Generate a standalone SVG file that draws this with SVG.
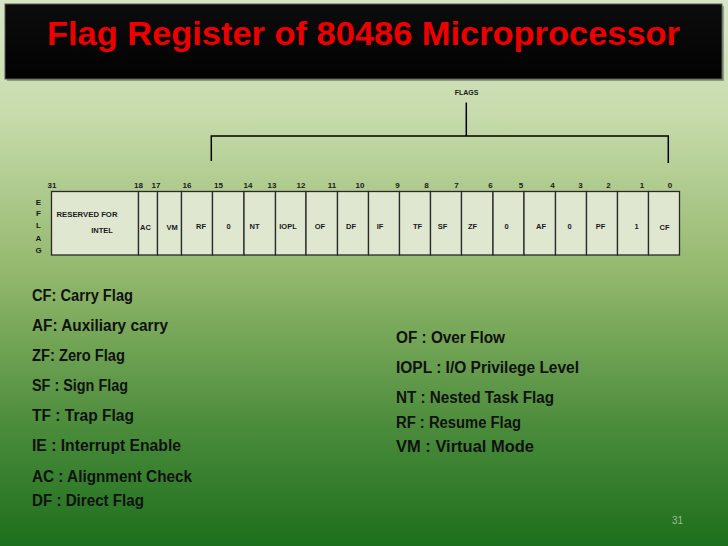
<svg xmlns="http://www.w3.org/2000/svg" width="728" height="546" viewBox="0 0 728 546">
<defs>
<linearGradient id="bg" x1="0" y1="0" x2="0" y2="1">
<stop offset="0" stop-color="#d6e6c6"/>
<stop offset="0.2" stop-color="#c9dcae"/>
<stop offset="0.5" stop-color="#93b86c"/>
<stop offset="0.78" stop-color="#4b8c3b"/>
<stop offset="1" stop-color="#1d6f1d"/>
</linearGradient>
<linearGradient id="bar" x1="0" y1="0" x2="0" y2="1">
<stop offset="0" stop-color="#0c0c0c"/>
<stop offset="1" stop-color="#020202"/>
</linearGradient>
</defs>
<style>
text{font-family:"Liberation Sans",Arial,sans-serif;font-weight:bold;}
.title{font-size:33px;fill:#ee0000;}
.num{font-size:8px;fill:#1a1a1a;text-anchor:middle;}
.lbl{font-size:7.5px;fill:#1a1a1a;text-anchor:middle;}
.cell{fill:#dfe7d1;stroke:#2a2a2a;stroke-width:1.3;}
.leg{font-size:16px;fill:#111;}
.conn{stroke:#000;stroke-width:1.5;fill:none;}
</style>
<rect width="728" height="546" fill="url(#bg)"/>
<g id="title">
<rect x="5" y="4" width="717" height="75" fill="#000" opacity="0.3" transform="translate(2,2)"/>
<rect x="5" y="4" width="717" height="75" fill="url(#bar)" stroke="#5a5a5a" stroke-width="1"/>
<text class="title" x="47" y="45" textLength="633" lengthAdjust="spacingAndGlyphs">Flag Register of 80486 Microprocessor</text>
</g>
<g id="flags-label">
<text class="num" x="466.5" y="95" style="font-size:7px">FLAGS</text>
</g>
<g id="connectors">
<path class="conn" d="M466.3,102.5 V136"/>
<path class="conn" d="M211.3,161 V136 H668.3 V163"/>
</g>
<g id="eflag-label">
<text class="num" x="38.5" y="204.5">E</text>
<text class="num" x="38.5" y="216">F</text>
<text class="num" x="38.5" y="228">L</text>
<text class="num" x="38.5" y="240.5">A</text>
<text class="num" x="38.5" y="253">G</text>
</g>
<g id="bit-numbers">
<text class="num" x="52" y="188">31</text>
<text class="num" x="138.5" y="188">18</text>
<text class="num" x="156" y="188">17</text>
<text class="num" x="187" y="188">16</text>
<text class="num" x="218.5" y="188">15</text>
<text class="num" x="248" y="188">14</text>
<text class="num" x="272" y="188">13</text>
<text class="num" x="301" y="188">12</text>
<text class="num" x="332" y="188">11</text>
<text class="num" x="360" y="188">10</text>
<text class="num" x="397.5" y="188">9</text>
<text class="num" x="426.5" y="188">8</text>
<text class="num" x="456.5" y="188">7</text>
<text class="num" x="490.5" y="188">6</text>
<text class="num" x="521" y="188">5</text>
<text class="num" x="552.5" y="188">4</text>
<text class="num" x="580.5" y="188">3</text>
<text class="num" x="608.5" y="188">2</text>
<text class="num" x="642" y="188">1</text>
<text class="num" x="670" y="188">0</text>
</g>
<g id="register">
<g id="cell-reserved"><rect class="cell" x="51.5" y="191.5" width="87" height="63.5"/><text class="lbl" x="56.5" y="217" style="text-anchor:start" textLength="61" lengthAdjust="spacingAndGlyphs">RESERVED FOR</text><text class="lbl" x="102" y="232.5">INTEL</text></g>
<g id="cell-ac"><rect class="cell" x="138.5" y="191.5" width="19" height="63.5"/><text class="lbl" x="145.5" y="229.5">AC</text></g>
<g id="cell-vm"><rect class="cell" x="157.5" y="191.5" width="24" height="63.5"/><text class="lbl" x="172" y="230">VM</text></g>
<g id="cell-rf"><rect class="cell" x="181.5" y="191.5" width="31" height="63.5"/><text class="lbl" x="201" y="229">RF</text></g>
<g id="cell-b15"><rect class="cell" x="212.5" y="191.5" width="31.5" height="63.5"/><text class="lbl" x="228.5" y="229">0</text></g>
<g id="cell-nt"><rect class="cell" x="244" y="191.5" width="31.5" height="63.5"/><text class="lbl" x="254.5" y="229">NT</text></g>
<g id="cell-iopl"><rect class="cell" x="275.5" y="191.5" width="30.5" height="63.5"/><text class="lbl" x="288" y="229">IOPL</text></g>
<g id="cell-of"><rect class="cell" x="306" y="191.5" width="31.5" height="63.5"/><text class="lbl" x="320" y="229">OF</text></g>
<g id="cell-df"><rect class="cell" x="337.5" y="191.5" width="31" height="63.5"/><text class="lbl" x="351" y="229">DF</text></g>
<g id="cell-if"><rect class="cell" x="368.5" y="191.5" width="31" height="63.5"/><text class="lbl" x="380" y="229">IF</text></g>
<g id="cell-tf"><rect class="cell" x="399.5" y="191.5" width="31" height="63.5"/><text class="lbl" x="417.5" y="229">TF</text></g>
<g id="cell-sf"><rect class="cell" x="430.5" y="191.5" width="31" height="63.5"/><text class="lbl" x="442.5" y="229">SF</text></g>
<g id="cell-zf"><rect class="cell" x="461.5" y="191.5" width="31.5" height="63.5"/><text class="lbl" x="472.5" y="229">ZF</text></g>
<g id="cell-b5"><rect class="cell" x="493" y="191.5" width="31" height="63.5"/><text class="lbl" x="506.5" y="229">0</text></g>
<g id="cell-af"><rect class="cell" x="524" y="191.5" width="31.5" height="63.5"/><text class="lbl" x="541" y="229">AF</text></g>
<g id="cell-b3"><rect class="cell" x="555.5" y="191.5" width="31" height="63.5"/><text class="lbl" x="569.5" y="229">0</text></g>
<g id="cell-pf"><rect class="cell" x="586.5" y="191.5" width="31" height="63.5"/><text class="lbl" x="600.5" y="229">PF</text></g>
<g id="cell-b1"><rect class="cell" x="617.5" y="191.5" width="31" height="63.5"/><text class="lbl" x="636.5" y="229">1</text></g>
<g id="cell-cf"><rect class="cell" x="648.5" y="191.5" width="31" height="63.5"/><text class="lbl" x="664.5" y="230">CF</text></g>
</g>
<g id="legend-left">
<text class="leg" x="32" y="301" textLength="101" lengthAdjust="spacingAndGlyphs">CF: Carry Flag</text>
<text class="leg" x="32" y="330.5" textLength="136" lengthAdjust="spacingAndGlyphs">AF: Auxiliary carry</text>
<text class="leg" x="32" y="361" textLength="93" lengthAdjust="spacingAndGlyphs">ZF: Zero Flag</text>
<text class="leg" x="32" y="391" textLength="96" lengthAdjust="spacingAndGlyphs">SF : Sign Flag</text>
<text class="leg" x="32" y="421" textLength="102" lengthAdjust="spacingAndGlyphs">TF : Trap Flag</text>
<text class="leg" x="32" y="451" textLength="149" lengthAdjust="spacingAndGlyphs">IE : Interrupt Enable</text>
<text class="leg" x="32" y="481.5" textLength="160" lengthAdjust="spacingAndGlyphs">AC : Alignment Check</text>
<text class="leg" x="32" y="505.5" textLength="112" lengthAdjust="spacingAndGlyphs">DF : Direct Flag</text>
</g>
<g id="legend-right">
<text class="leg" x="396" y="343" textLength="109" lengthAdjust="spacingAndGlyphs">OF : Over Flow</text>
<text class="leg" x="396" y="372.5" textLength="183" lengthAdjust="spacingAndGlyphs">IOPL : I/O Privilege Level</text>
<text class="leg" x="396" y="402.5" textLength="158" lengthAdjust="spacingAndGlyphs">NT : Nested Task Flag</text>
<text class="leg" x="396" y="427.5" textLength="125" lengthAdjust="spacingAndGlyphs">RF : Resume Flag</text>
<text class="leg" x="396" y="451.5" textLength="138" lengthAdjust="spacingAndGlyphs">VM : Virtual Mode</text>
</g>
<g id="page-number">
<text x="672" y="524" style="font-size:10px;font-weight:normal;fill:#9dbd8e">31</text>
</g>
</svg>
